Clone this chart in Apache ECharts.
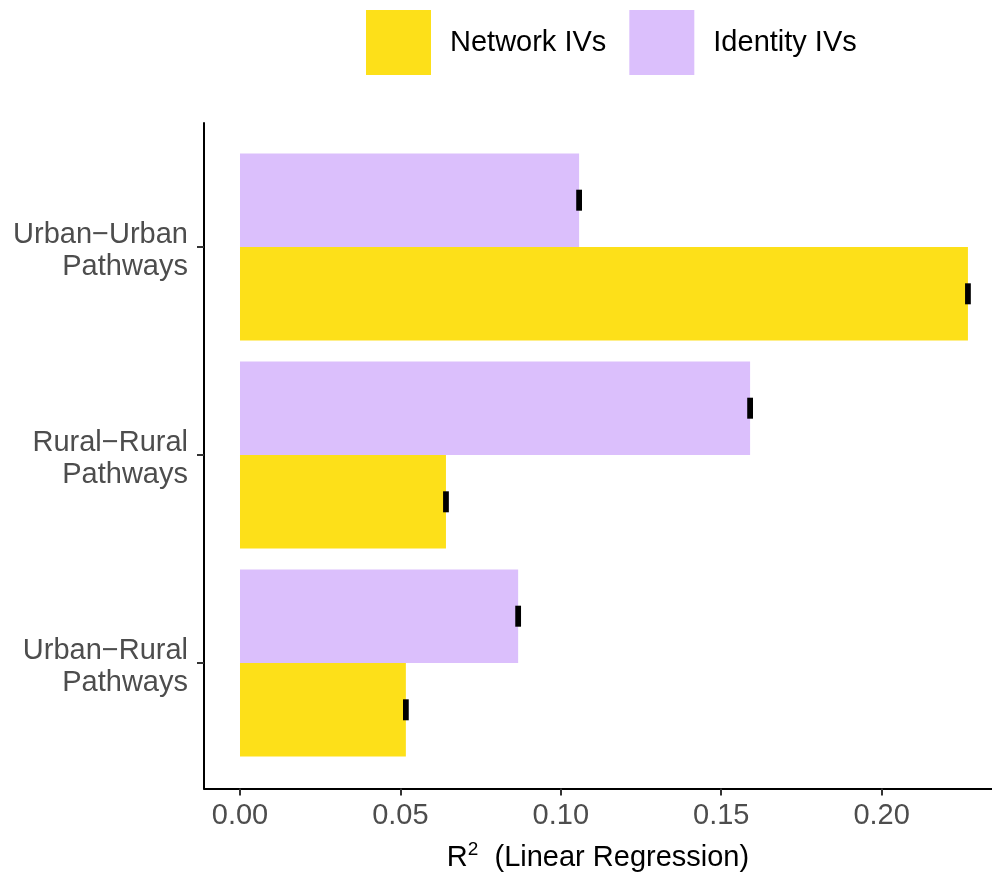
<!DOCTYPE html>
<html>
<head>
<meta charset="utf-8">
<script src="https://cdn.jsdelivr.net/npm/echarts@6/dist/echarts.min.js"></script>
<style>
html,body{margin:0;padding:0;background:#fff;}
#chart{width:992px;height:877px;}
</style>
</head>
<body>
<div id="chart"></div>
<script>
// ---- data ----
const categories = ['Urban\u2212Urban\nPathways', 'Rural\u2212Rural\nPathways', 'Urban\u2212Rural\nPathways'];
const networkValues = [0.2269, 0.0642, 0.0517];
const identityValues = [0.1057, 0.1590, 0.0867];
const networkErr = [0.0009, 0.0009, 0.0009];
const identityErr = [0.0009, 0.0009, 0.0009];
const xTicks = [0, 0.05, 0.10, 0.15, 0.20];
const seriesNames = ['Network IVs', 'Identity IVs'];

const FONT = 'Liberation Sans, Arial, Helvetica, sans-serif';
const YELLOW = '#FDE019';
const PURPLE = '#DBBFFC';
const XMIN = -0.01122, XMAX = 0.2344;

function errData(vals, errs) {
  return vals.map((v, i) => [v - errs[i], v + errs[i], i]);
}

function errRender(side) {
  return function (params, api) {
    const lo = api.value(0), hi = api.value(1), c = api.value(2);
    const p1 = api.coord([lo, c]);
    const p2 = api.coord([hi, c]);
    const band = api.size([0, 1])[1];
    const cy = p1[1] + side * band * 0.225;
    const h = 21;
    return {
      type: 'rect',
      shape: { x: p1[0], y: cy - h / 2, width: Math.max(p2[0] - p1[0], 1), height: h },
      style: { fill: '#000' }
    };
  };
}

const chart = echarts.init(document.getElementById('chart'), null, { renderer: 'canvas' });
chart.setOption({
  backgroundColor: '#fff',
  animation: false,
  textStyle: { fontFamily: FONT },
  legend: {
    data: seriesNames,
    left: 361, top: 5,
    itemWidth: 65, itemHeight: 65, itemGap: 23,
    icon: 'rect',
    textStyle: { fontSize: 29, color: '#000', fontFamily: FONT, padding: [0, 0, 0, 14] }
  },
  grid: [
    { left: 204, right: 0, top: 123, bottom: 88 },
    { left: 204, right: 0, top: 143, bottom: 110 }
  ],
  xAxis: [
    {
      gridIndex: 0, type: 'value', min: XMIN, max: XMAX,
      axisLine: { show: true, onZero: false, lineStyle: { color: '#000', width: 2 } },
      axisTick: { show: true, length: 7, lineStyle: { color: '#333', width: 2 }, customValues: xTicks },
      axisLabel: { customValues: xTicks, fontSize: 29, color: '#4D4D4D', margin: 13, fontFamily: FONT,
        formatter: v => v.toFixed(2) },
      splitLine: { show: false },
      name: '{r|R}{s|2}{t|  (Linear Regression)}',
      nameLocation: 'middle', nameGap: 52,
      nameTextStyle: {
        fontFamily: FONT, color: '#000',
        rich: {
          r: { fontSize: 29, fontFamily: FONT, color: '#000', lineHeight: 34 },
          s: { fontSize: 19, fontFamily: FONT, color: '#000', verticalAlign: 'top', lineHeight: 20 },
          t: { fontSize: 29, fontFamily: FONT, color: '#000', lineHeight: 34 }
        }
      }
    },
    {
      gridIndex: 1, type: 'value', min: XMIN, max: XMAX, show: false
    }
  ],
  yAxis: [
    {
      gridIndex: 0, type: 'value', min: 0, max: 1,
      axisLine: { show: true, onZero: false, lineStyle: { color: '#000', width: 2 } },
      axisTick: { show: false }, axisLabel: { show: false }, splitLine: { show: false }
    },
    {
      gridIndex: 1, type: 'category', data: categories, inverse: true,
      axisLine: { show: false, onZero: false },
      axisTick: { show: true, alignWithLabel: true, length: 7, lineStyle: { color: '#333', width: 2 } },
      axisLabel: {
        margin: 16, align: 'right',
        formatter: v => { const p = v.split('\n'); return '{a|' + p[0] + '}\n{a|' + p[1] + '}'; },
        rich: {
          a: { fontSize: 29, color: '#4D4D4D', fontFamily: FONT, lineHeight: 32, padding: [8, 0, 0, 0], align: 'right' }
        }
      },
      splitLine: { show: false }
    }
  ],
  series: [
    {
      name: 'Identity IVs', type: 'bar', xAxisIndex: 1, yAxisIndex: 1,
      data: identityValues, barWidth: '45%', barGap: '0%',
      itemStyle: { color: PURPLE }
    },
    {
      name: 'Network IVs', type: 'bar', xAxisIndex: 1, yAxisIndex: 1,
      data: networkValues, barWidth: '45%', barGap: '0%',
      itemStyle: { color: YELLOW }
    },
    {
      type: 'custom', xAxisIndex: 1, yAxisIndex: 1, renderItem: errRender(-1),
      data: errData(identityValues, identityErr), z: 5,
      encode: { x: [0, 1], y: 2 }
    },
    {
      type: 'custom', xAxisIndex: 1, yAxisIndex: 1, renderItem: errRender(1),
      data: errData(networkValues, networkErr), z: 5,
      encode: { x: [0, 1], y: 2 }
    }
  ]
});
</script>
</body>
</html>
